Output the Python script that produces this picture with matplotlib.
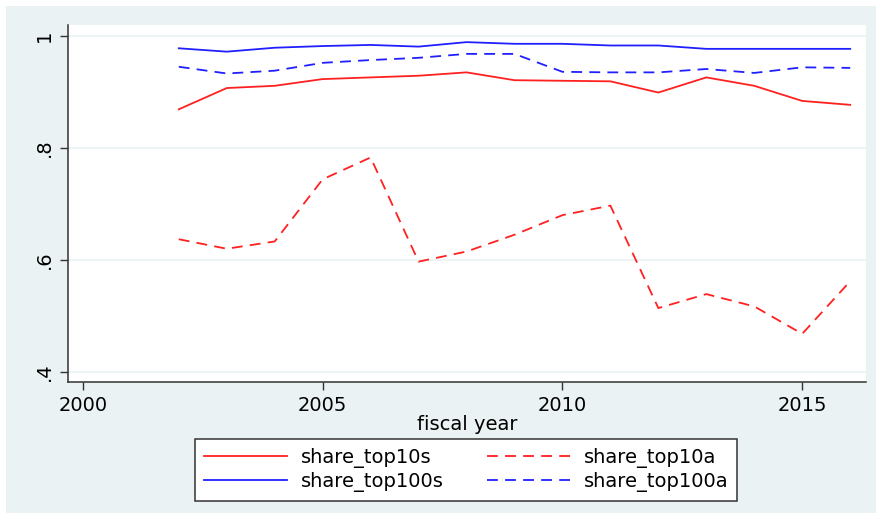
import numpy as np
import matplotlib.pyplot as plt
from matplotlib.patches import Rectangle

plt.rcParams['font.family'] = ['DejaVu Sans']

years = list(range(2002, 2017))
share_top10s = [0.869, 0.907, 0.911, 0.923, 0.926, 0.929, 0.935, 0.921,
                0.920, 0.919, 0.899, 0.926, 0.911, 0.884, 0.877]
share_top10a = [0.637, 0.620, 0.633, 0.744, 0.783, 0.597, 0.615, 0.645,
                0.680, 0.697, 0.514, 0.539, 0.517, 0.468, 0.562]
share_top100s = [0.978, 0.972, 0.979, 0.982, 0.984, 0.981, 0.989, 0.986,
                 0.986, 0.983, 0.983, 0.977, 0.977, 0.977, 0.977]
share_top100a = [0.945, 0.933, 0.938, 0.952, 0.957, 0.961, 0.968, 0.968,
                 0.936, 0.935, 0.935, 0.941, 0.934, 0.944, 0.943]

bg = '#eaf2f3'
red = '#ff2020'
blue = '#2020ff'

fig = plt.figure(figsize=(8.76, 5.13), dpi=100)
fig.patch.set_facecolor('white')
# stata-ish outer panel with thin white margin
fig.patches.append(Rectangle((6 / 876, 0), 1, 1 - 6 / 513, transform=fig.transFigure,
                             facecolor=bg, edgecolor='none', zorder=-10))

ax = fig.add_axes([68 / 876, 1 - 382 / 513, (866 - 68) / 876, (382 - 25) / 513])
ax.set_facecolor('white')

ax.plot(years, share_top10s, color=red, lw=1.3, label='share_top10s')
ax.plot(years, share_top10a, color=red, lw=1.3, ls=(0, (6, 4)), label='share_top10a')
ax.plot(years, share_top100s, color=blue, lw=1.3, label='share_top100s')
ax.plot(years, share_top100a, color=blue, lw=1.3, ls=(0, (6, 4)), label='share_top100a')

ax.set_xlim(1999.69, 2016.33)
ax.set_ylim(0.382, 1.0196)
ax.set_xticks([2000, 2005, 2010, 2015])
ax.set_yticks([0.4, 0.6, 0.8, 1.0])
ax.set_yticklabels(['.4', '.6', '.8', '1'], rotation=90, va='center')
ax.tick_params(labelsize=14, length=6, width=1.0, color='#333333', pad=4)
ax.grid(axis='y', color=bg, lw=1.2)
ax.set_axisbelow(True)

for s in ['top', 'right']:
    ax.spines[s].set_visible(False)
for s in ['left', 'bottom']:
    ax.spines[s].set_color('#333333')
    ax.spines[s].set_linewidth(1.1)

ax.set_xlabel('fiscal year', fontsize=14, labelpad=0)

handles, labels = ax.get_legend_handles_labels()
order = [0, 2, 1, 3]
leg = fig.legend([handles[i] for i in order], [labels[i] for i in order],
                 ncol=2, loc='center', bbox_to_anchor=(466 / 876, 1 - 470 / 513),
                 fontsize=14, frameon=True, fancybox=False, handlelength=4.3,
                 columnspacing=2.2, borderpad=0.45, labelspacing=0.2,
                 handletextpad=0.7, framealpha=1)
leg.get_frame().set_edgecolor('#333333')
leg.get_frame().set_facecolor('white')
leg.get_frame().set_linewidth(1.1)

fig.savefig('out.png', dpi=100, facecolor=fig.get_facecolor())
